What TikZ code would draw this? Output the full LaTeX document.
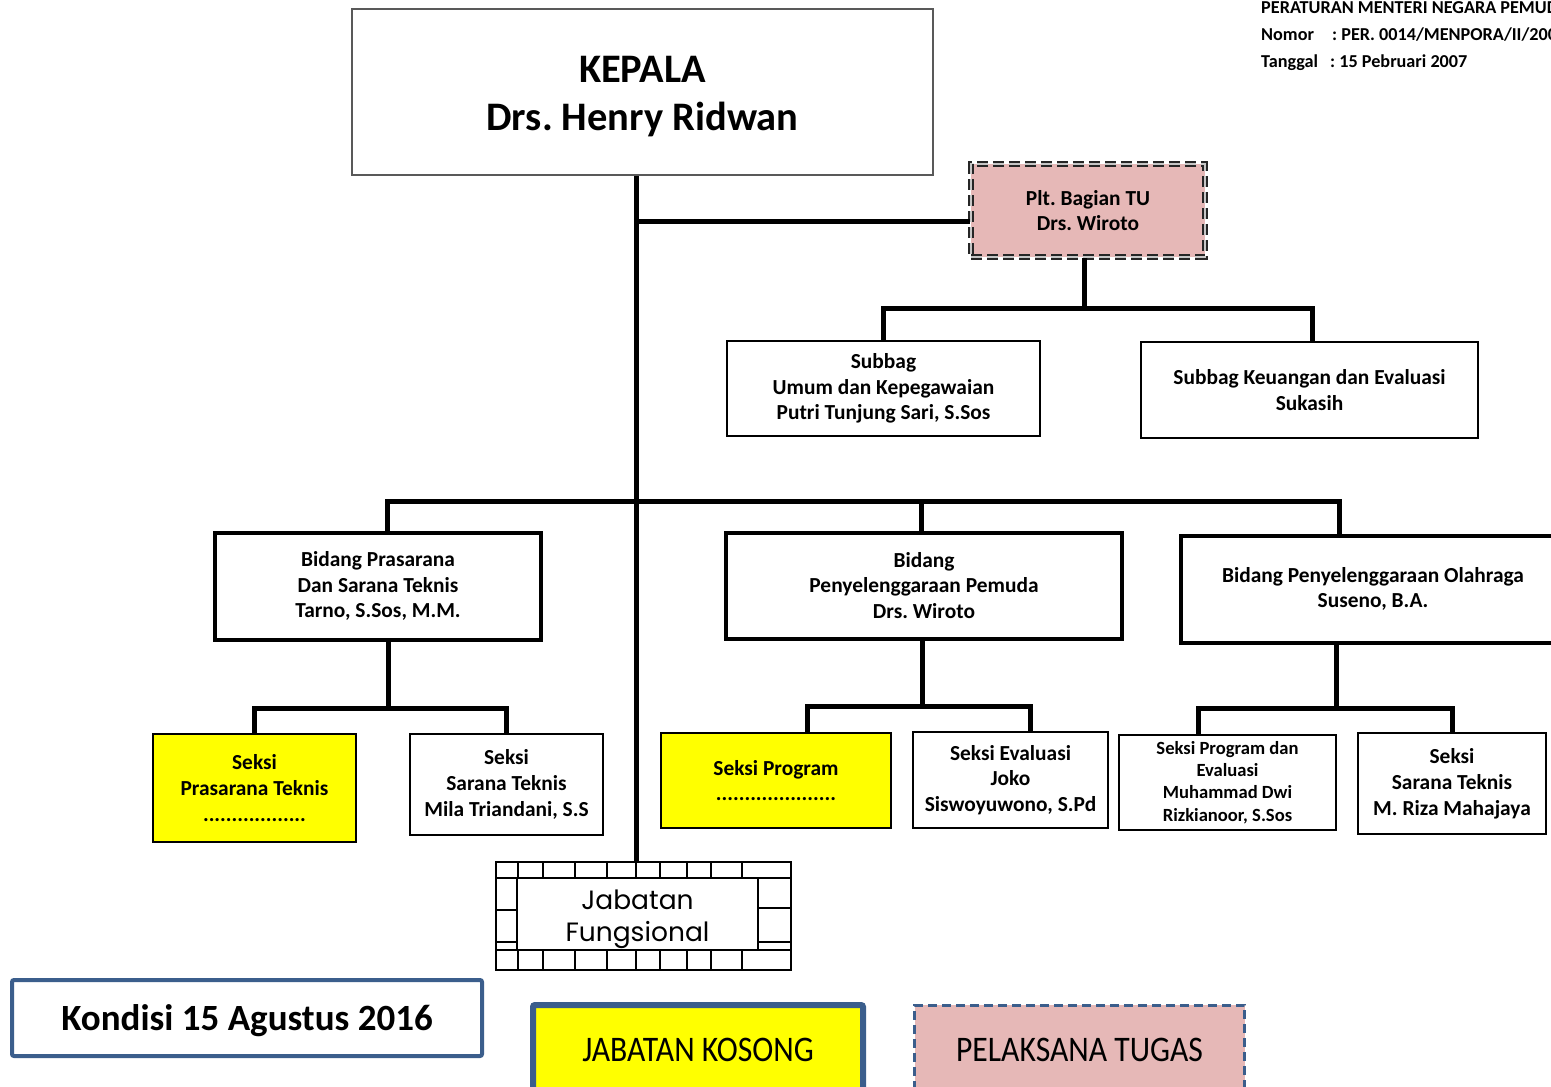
\documentclass[tikz,border=0pt]{standalone}
\usepackage{fontspec}
\usepackage{graphicx}
\setmainfont{Carlito}
\newfontfamily\gothic{Poppins}
\usetikzlibrary{calc}
\definecolor{pinkfill}{HTML}{E6B8B7}
\definecolor{legblue}{HTML}{3B5E8C}
\definecolor{yel}{HTML}{FFFF00}
\frenchspacing
\tikzset{
  conn/.style={line width=5pt, draw=black},
  orgbox/.style={draw=black, fill=white, inner sep=0pt, align=center, line width=2pt,
     font=\bfseries\fontsize{21.4}{25.8}\selectfont},
  bidbox/.style={orgbox, line width=4pt},
  seksibox/.style={orgbox, line width=2.5pt},
  smallbox/.style={orgbox, line width=2.5pt, font=\bfseries\fontsize{18.6}{22.4}\selectfont},
  hdr/.style={inner sep=0pt, font=\bfseries\fontsize{18.2}{20}\selectfont},
  brick/.style={line width=2pt, draw=black},
}
\begin{document}
\begin{tikzpicture}[x=1pt,y=-1pt]
\useasboundingbox (0,0) rectangle (1551,1087);
\clip (0,0) rectangle (1551,1087);
\fill[white] (0,0) rectangle (1551,1087);

% header
\node[hdr, anchor=base west] (h1) at (1261,13) {PERATURAN MENTERI NEGARA PEMUDA DAN OLAHRAGA};
\node[hdr, anchor=base west] (h2a) at (1261,40) {Nomor};
\node[hdr, anchor=base west] (h2b) at (1332,40) {: PER. 0014/MENPORA/II/2007};
\node[hdr, anchor=base west] (h3a) at (1261,67) {Tanggal};
\node[hdr, anchor=base west] (h3b) at (1330,67) {: 15 Pebruari 2007};

% boxes
\node[orgbox, draw=black!65, line width=2pt, minimum width=581pt, minimum height=166pt] (kepala) at (642.5,92) {};
\node[inner sep=0pt, align=center, font=\bfseries\fontsize{40.5}{48}\selectfont] (kepalatxt) at (642.5,97) {KEPALA\\Drs. Henry Ridwan};
\node[orgbox, fill=pinkfill, draw=black!85, double=gray!45, double distance=1.6pt, line width=2pt,
      dash pattern=on 11pt off 5pt, minimum width=234pt, minimum height=93pt] (plt) at (1088,210.5) {Plt. Bagian TU\\Drs. Wiroto};
\node[orgbox, minimum width=313pt, minimum height=95pt] (sub1) at (883.5,388.5) {Subbag\\Umum dan Kepegawaian\\Putri Tunjung Sari, S.Sos};
\node[orgbox, minimum width=337pt, minimum height=96pt] (sub2) at (1309.5,390) {Subbag Keuangan dan Evaluasi\\Sukasih};

\node[bidbox, minimum width=326pt, minimum height=107pt] (bid1) at (378,586) {Bidang Prasarana\\Dan Sarana Teknis\\Tarno, S.Sos, M.M.};
\node[bidbox, minimum width=396pt, minimum height=106pt] (bid2) at (924,585.5) {Bidang\\Penyelenggaraan Pemuda\\Drs. Wiroto};
\node[bidbox, minimum width=384pt, minimum height=107pt] (bid3) at (1373,589) {Bidang Penyelenggaraan Olahraga\\Suseno, B.A.};

\node[seksibox, fill=yel, minimum width=203pt, minimum height=108pt] (sek1) at (254.5,788) {Seksi\\Prasarana Teknis\\..................};
\node[seksibox, minimum width=193pt, minimum height=101pt] (sek2) at (506.5,784.5) {Seksi\\Sarana Teknis\\Mila Triandani, S.S};
\node[seksibox, fill=yel, minimum width=230pt, minimum height=95pt] (sek3) at (776,780.5) {Seksi Program\\.....................};
\node[seksibox, minimum width=195pt, minimum height=96pt] (sek4) at (1010.5,780) {Seksi Evaluasi\\Joko\\Siswoyuwono, S.Pd};
\node[smallbox, minimum width=217pt, minimum height=95pt] (sek5) at (1227.5,782.5) {Seksi Program dan\\Evaluasi\\Muhammad Dwi\\Rizkianoor, S.Sos};
\node[seksibox, minimum width=188pt, minimum height=101pt] (sek6) at (1452,783.5) {Seksi\\Sarana Teknis\\M. Riza Mahajaya};

% Jabatan Fungsional (brick frame)
\node[draw=black, line width=2pt, fill=white, minimum width=295pt, minimum height=108pt, inner sep=0pt] (jf) at (643.5,916) {};
\draw[brick] (496,878) -- (791,878);
\draw[brick] (496,950) -- (791,950);
\foreach \xx in {518,543,575,607,636,660,687,711,742} {
  \draw[brick] (\xx,862) -- (\xx,878);
  \draw[brick] (\xx,950) -- (\xx,970);
}
\draw[brick] (496,910) -- (517,910);
\draw[brick] (496,942) -- (517,942);
\draw[brick] (758,908) -- (791,908);
\draw[brick] (758,942) -- (791,942);
\node[draw=black, line width=2pt, fill=white, minimum width=241pt, minimum height=72pt, inner sep=0pt] (jfin) at (637.5,914) {};
\node[inner sep=0pt, align=center, font=\gothic\fontsize{26.5}{32}\selectfont] (jftxt) at (637.5,919) {Jabatan\\Fungsional};

% connectors
\coordinate (t0) at (636,175);
\draw[conn] (t0 |- kepala.south) -- (t0 |- jf.north);
\draw[conn] (t0 |- 0,221) -- ([yshift=-10.5pt]plt.west);
\coordinate (pb) at (1084,308);
\draw[conn] (plt.south -| pb) -- (pb);
\coordinate (pbr) at (1312,308);
\draw[conn] (sub1.north) |- (pb) -- (pbr) -- (pbr |- sub2.north);

\coordinate (b1) at (387,501);
\coordinate (b3) at (1339,501);
\draw[conn] (b1 |- bid1.north) -- (b1) -- (b3) -- (b3 |- bid3.north);
\coordinate (b2) at (921,501);
\draw[conn] (b2 |- bid2.north) -- (b2);

\coordinate (s1) at (388,708);
\draw[conn] (s1 |- bid1.south) -- (s1);
\draw[conn] (sek1.north) |- (s1) -| (sek2.north);

\coordinate (s2) at (922,706);
\coordinate (s2l) at (807,706);
\coordinate (s2r) at (1030,706);
\draw[conn] (s2 |- bid2.south) -- (s2);
\draw[conn] (s2l |- sek3.north) -- (s2l) -- (s2r) -- (s2r |- sek4.north);

\coordinate (s3) at (1336,708);
\coordinate (s3l) at (1198,708);
\draw[conn] (s3 |- bid3.south) -- (s3);
\draw[conn] (s3l |- sek5.north) -- (s3l) -| (sek6.north);

% legend
\node[draw=legblue, line width=4pt, rounded corners=2pt, fill=white, minimum width=470pt, minimum height=76pt,
      inner sep=0pt] (kondisi) at (247,1018) {};
\node[inner sep=0pt, font=\bfseries\fontsize{37}{44}\selectfont] (kondisitxt) at (247,1021) {Kondisi 15 Agustus 2016};
\node[draw=legblue, line width=6pt, rounded corners=2pt, fill=yel, minimum width=330pt, minimum height=90pt,
      inner sep=0pt, font=\fontsize{36}{42}\selectfont] (kosong) at (698,1050) {\scalebox{0.88}[1]{JABATAN KOSONG}};
\node[draw=legblue, line width=3pt, dash pattern=on 9pt off 5pt, fill=pinkfill, minimum width=330pt, minimum height=90pt,
      inner sep=0pt, font=\fontsize{36}{42}\selectfont] (pt) at (1079.5,1050) {\scalebox{0.88}[1]{PELAKSANA TUGAS}};
\end{tikzpicture}
\end{document}
